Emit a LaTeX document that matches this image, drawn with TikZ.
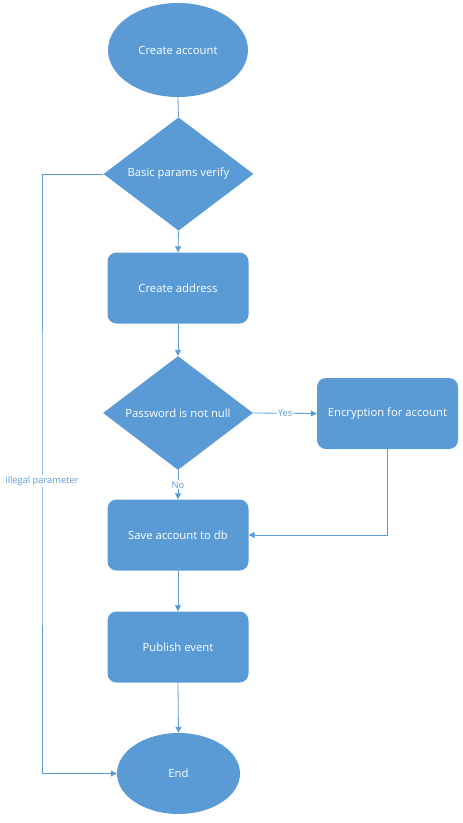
\documentclass[tikz,border=0pt]{standalone}
\usepackage{fontspec}
\setmainfont{Open Sans}
\usetikzlibrary{shapes.geometric,arrows.meta}
\definecolor{fillblue}{HTML}{5B9BD5}
\definecolor{lineblue}{HTML}{5B9BD5}
\begin{document}
\begin{tikzpicture}[x=1pt,y=-1pt,
  base/.style={fill=fillblue,draw=none,text=white,font=\fontsize{11.3}{13}\selectfont,inner sep=0pt},
  term/.style={base,ellipse},
  decis/.style={base,diamond,minimum width=150pt,minimum height=112pt},
  proc/.style={base,rectangle,rounded corners=9pt,minimum width=141pt,minimum height=71pt},
  conn/.style={draw=lineblue,line width=0.8pt},
  arr/.style={conn,-{Triangle[width=6pt,length=6pt]}},
  lbl/.style={fill=white,text=lineblue,font=\fontsize{9.3}{10}\selectfont,inner sep=1pt}]
\useasboundingbox (0,0) rectangle (463,823);
\node[term,minimum width=140pt,minimum height=94pt] (ca) at (178,50) {Create account};
\node[decis] (bv) at (178.5,174) {Basic params verify};
\node[proc] (addr) at (178,288) {Create address};
\node[decis] (pw) at (178,413) {Password is not null};
\node[proc] (enc) at (387.5,413.5) {Encryption for account};
\node[proc] (save) at (178,535) {Save account to db};
\node[proc] (pub) at (178,647) {Publish event};
\node[term,minimum width=123pt,minimum height=81pt] (end) at (178.5,773.5) {End};
\coordinate (lx) at (42,481);
\draw[conn] (ca.south) -- (bv.north);
\draw[arr] (bv.south) -- (addr.north);
\draw[arr] (addr.south) -- (pw.north);
\draw[arr] (pw.east) -- node[lbl] {Yes} (enc.west);
\draw[arr] (pw.south) -- node[lbl,pos=0.5] {No} (save.north);
\draw[arr] (enc.south) |- (save.east);
\draw[arr] (save.south) -- (pub.north);
\draw[arr] (pub.south) -- (end.north);
\draw[arr] (bv.west) -| (lx) |- (end.west);
\node[lbl] (ip) at (lx) {illegal parameter};
\end{tikzpicture}
\end{document}
